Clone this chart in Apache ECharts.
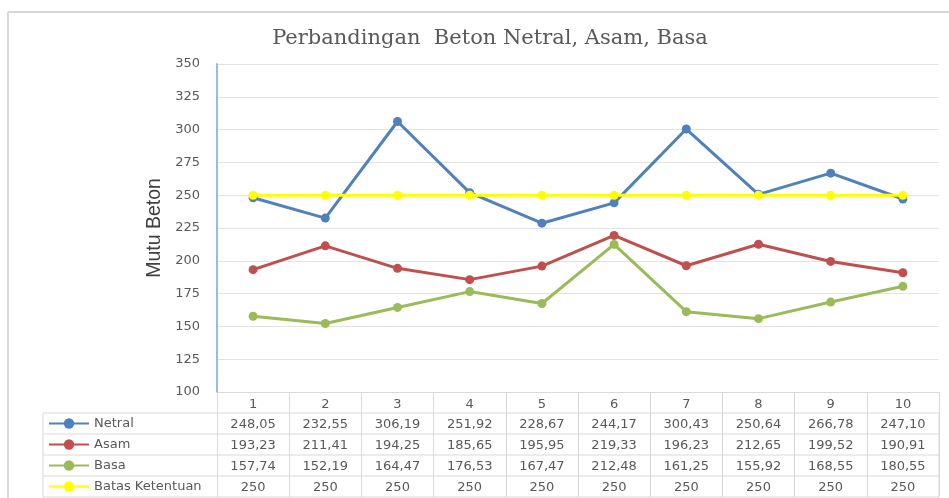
<!DOCTYPE html>
<html><head><meta charset="utf-8">
<script src="https://cdn.jsdelivr.net/npm/echarts@6/dist/echarts.min.js"></script>
<style>html,body{margin:0;padding:0;background:#fff}#c{width:949px;height:498px}</style>
</head><body><div id="c"></div>
<script>
var categories = ['1','2','3','4','5','6','7','8','9','10'];
var netral = [248.05,232.55,306.19,251.92,228.67,244.17,300.43,250.64,266.78,247.10];
var asam   = [193.23,211.41,194.25,185.65,195.95,219.33,196.23,212.65,199.52,190.91];
var basa   = [157.74,152.19,164.47,176.53,167.47,212.48,161.25,155.92,168.55,180.55];
var batas  = [250,250,250,250,250,250,250,250,250,250];
var seriesNames = ['Netral','Asam','Basa','Batas Ketentuan'];
var seriesData = [netral, asam, basa, batas];
var seriesColors = ['#4f81bd','#c0504d','#9bbb59','#ffff00'];
var yTicks = {min:100, max:350, interval:25};

var gridL = 217, gridR = 939, gridT = 64, gridB = 392;
var rowCenters = [423, 444, 465, 486];
var tableLines = [413, 434, 455, 476, 497];
var tableLeft = 43;
var lineColor = '#d9d9d9';
var txt = '#595959';
var font = 'DejaVu Sans';

function fmt(v, i){ return i === 3 ? String(v) : v.toFixed(2).replace('.', ','); }

var xAxes = [{
  type:'category', data:categories, boundaryGap:true, position:'bottom',
  axisLine:{show:true, lineStyle:{color:lineColor, width:1}},
  axisTick:{show:true, length: tableLines[4]-gridB, lineStyle:{color:lineColor}},
  axisLabel:{color:txt, fontSize:13, fontFamily:font, margin: 13, verticalAlign:'middle'},
  splitLine:{show:false}
}];
seriesData.forEach(function(arr, si){
  xAxes.push({
    type:'category', data:categories, position:'bottom', gridIndex:0,
    axisLine:{show:false}, axisTick:{show:false}, splitLine:{show:false},
    axisLabel:{color:txt, fontSize:13, fontFamily:font, verticalAlign:'middle',
      margin: rowCenters[si]-gridB+1.5,
      formatter:(function(a, k){ return function(v, idx){ return fmt(a[idx], k); }; })(arr, si)}
  });
});

var graphics = [
  {type:'line', shape:{x1:8,y1:12,x2:949,y2:12}, style:{stroke:'#d9d9d9', lineWidth:2}, silent:true},
  {type:'line', shape:{x1:8,y1:12,x2:8,y2:498}, style:{stroke:'#d9d9d9', lineWidth:2}, silent:true},
  {type:'line', shape:{x1:tableLeft,y1:tableLines[0],x2:tableLeft,y2:tableLines[4]}, style:{stroke:lineColor, lineWidth:1}, silent:true},
  {type:'line', shape:{x1:gridR,y1:tableLines[0],x2:gridR,y2:tableLines[4]}, style:{stroke:lineColor, lineWidth:1}, silent:true}
];
tableLines.forEach(function(y){
  graphics.push({type:'line', shape:{x1:tableLeft,y1:y,x2:gridR,y2:y}, style:{stroke:lineColor, lineWidth:1}, silent:true});
});

var option = {
  animation:false,
  backgroundColor:'#fff',
  title:{text:'Perbandingan  Beton Netral, Asam, Basa', left:485, textAlign:'center', top:23,
    textStyle:{fontFamily:'DejaVu Serif', fontWeight:'normal', fontSize:21, color:txt}},
  grid:{left:gridL, right:949-gridR, top:gridT, bottom:498-gridB, containLabel:false},
  legend:{orient:'vertical', left:48, top:rowCenters[0]-6, padding:0, itemWidth:40, itemHeight:13, itemGap:8,
    textStyle:{color:txt, fontSize:13, fontFamily:font}, data:seriesNames},
  xAxis:xAxes,
  yAxis:{type:'value', min:yTicks.min, max:yTicks.max, interval:yTicks.interval,
    name:'Mutu Beton', nameLocation:'middle', nameGap:52,
    nameTextStyle:{fontSize:19.5, color:'#404040', fontFamily:'Liberation Sans'},
    axisLine:{show:true, lineStyle:{color:'#9dbbe0', width:2}},
    axisTick:{show:false},
    axisLabel:{color:txt, fontSize:13, fontFamily:font, margin:17},
    splitLine:{lineStyle:{color:'#e3e3e3'}}},
  graphic:graphics,
  series: seriesData.map(function(arr, i){
    return {name:seriesNames[i], type:'line', data:arr, xAxisIndex:0, symbol:'circle', symbolSize:9,
      lineStyle:{color:seriesColors[i], width:3}, itemStyle:{color:seriesColors[i]}, z: 2+i};
  })
};
var chart = echarts.init(document.getElementById('c'), null, {renderer:'canvas'});
chart.setOption(option);
</script></body></html>
